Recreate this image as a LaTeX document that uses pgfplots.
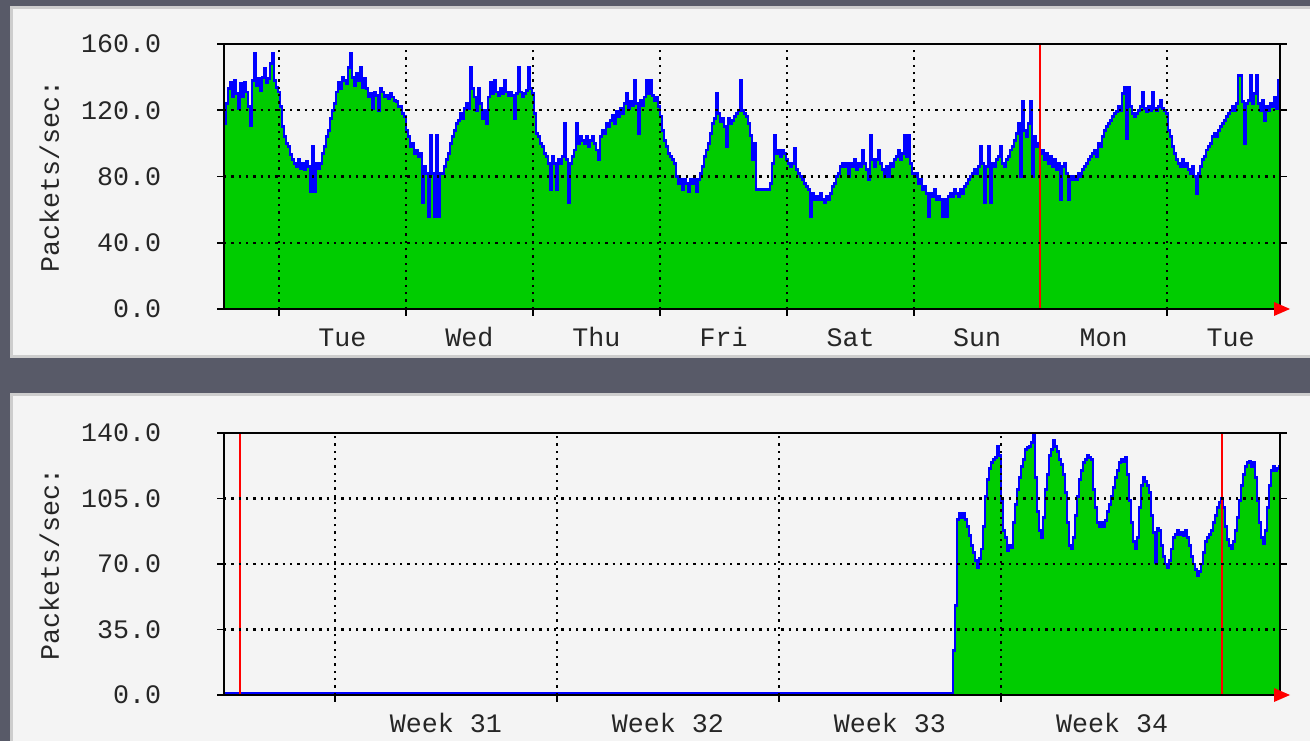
\documentclass[border=0pt]{standalone}
\usepackage{fontspec}
\setmainfont{Liberation Mono}
\usepackage{pgfplots}
\usepackage{pgfplotstable}
\pgfplotsset{compat=1.18}
\definecolor{bgdark}{HTML}{585A68}
\definecolor{panel}{HTML}{F4F4F4}
\definecolor{panelborder}{HTML}{CDCDCD}
\definecolor{mrtggreen}{HTML}{00CC00}
\definecolor{mrtgblue}{HTML}{0000FF}
\definecolor{mrtgred}{HTML}{FF0000}

\pgfplotstableread{
x y
0 112
2 124
4 133
6 137
8 128
10 138
12 130
14 121
16 136
18 128
20 137
22 131
24 122
26 111
28 138
30 154
32 135
34 139
36 132
38 140
40 145
42 137
44 139
46 148
48 154
50 138
52 134
54 131
56 122
58 110
60 104
62 100
64 98
66 93
68 90
70 88
72 86
74 90
76 85
78 88
80 84
82 89
84 86
86 71
88 98
90 71
92 88
94 85
96 88
98 94
100 98
102 104
104 108
106 115
108 120
110 124
112 131
114 137
116 133
118 140
120 138
122 136
124 146
126 154
128 140
130 135
132 142
134 138
136 146
138 134
140 139
142 133
144 128
146 130
148 121
150 131
152 129
154 120
156 133
158 131
160 128
162 129
164 127
166 130
168 128
170 126
172 125
174 122
176 122
178 118
180 116
182 108
184 104
186 98
188 100
190 94
192 96
194 92
196 94
198 64
200 86
202 82
204 56
206 105
208 82
210 56
212 105
214 56
216 82
218 82
220 86
222 90
224 94
226 100
228 104
230 108
232 112
234 114
236 118
238 115
240 121
242 124
244 121
246 146
248 133
250 128
252 120
254 133
256 124
258 115
260 120
262 112
264 128
266 137
268 130
270 138
272 131
274 129
276 133
278 130
280 138
282 131
284 129
286 131
288 129
290 115
292 130
294 146
296 131
298 128
300 130
302 132
304 146
306 133
308 130
310 118
312 106
314 104
316 100
318 98
320 94
322 92
324 88
326 72
328 92
330 88
332 72
334 90
336 88
338 92
340 112
342 90
344 64
346 88
348 92
350 96
352 112
354 100
356 104
358 102
360 100
362 104
364 98
366 102
368 104
370 100
372 96
374 90
376 104
378 108
380 106
382 112
384 110
386 114
388 117
390 112
392 119
394 116
396 121
398 118
400 124
402 130
404 121
406 125
408 123
410 138
412 124
414 106
416 126
418 123
420 128
422 138
424 130
426 138
428 129
430 126
432 128
434 122
436 116
438 108
440 102
442 98
444 94
446 92
448 90
450 88
452 80
454 76
456 78
458 72
460 78
462 76
464 71
466 78
468 76
470 78
472 71
474 78
476 82
478 86
480 92
482 96
484 100
486 106
488 112
490 115
492 130
494 118
496 113
498 115
500 110
502 98
504 115
506 112
508 114
510 116
512 118
514 120
516 138
518 120
520 118
522 116
524 112
526 105
528 90
530 100
532 72
534 72
536 72
538 72
540 72
542 72
544 72
546 76
548 88
550 105
552 94
554 96
556 92
558 96
560 94
562 90
564 88
566 86
568 88
570 97
572 84
574 82
576 80
578 78
580 76
582 74
584 72
586 56
588 70
590 66
592 68
594 66
596 70
598 66
600 64
602 68
604 66
606 70
608 74
610 76
612 80
614 82
616 86
618 88
620 86
622 88
624 80
626 88
628 86
630 90
632 84
634 88
636 86
638 96
640 88
642 84
644 78
646 105
648 90
650 86
652 90
654 96
656 88
658 84
660 80
662 86
664 80
666 88
668 86
670 90
672 92
674 96
676 90
678 94
680 105
682 92
684 105
686 88
688 82
690 80
692 82
694 76
696 78
698 72
700 74
702 70
704 56
706 70
708 68
710 72
712 66
714 68
716 66
718 56
720 66
722 56
724 68
726 70
728 68
730 72
732 70
734 68
736 72
738 70
740 74
742 76
744 78
746 80
748 82
750 84
752 82
754 86
756 98
758 88
760 64
762 86
764 98
766 64
768 88
770 86
772 90
774 92
776 98
778 88
780 86
782 90
784 92
786 96
788 98
790 102
792 106
794 112
796 80
798 125
800 108
802 104
804 112
806 125
808 80
810 104
812 98
814 100
816 94
818 96
820 90
822 94
824 88
826 92
828 86
830 90
832 84
834 88
836 66
838 86
840 88
842 82
844 66
846 80
848 78
850 80
852 78
854 82
856 80
858 84
860 86
862 88
864 90
866 92
868 94
870 96
872 92
874 100
876 98
878 104
880 108
882 110
884 112
886 114
888 116
890 118
892 119
894 122
896 120
898 130
900 134
902 103
904 134
906 122
908 118
910 116
912 118
914 120
916 122
918 131
920 121
922 119
924 122
926 120
928 131
930 121
932 120
934 122
936 126
938 121
940 120
942 118
944 108
946 104
948 98
950 94
952 90
954 88
956 86
958 90
960 86
962 88
964 84
966 82
968 86
970 80
972 70
974 82
976 86
978 90
980 92
982 96
984 98
986 100
988 104
990 106
992 104
994 108
996 110
998 112
1000 114
1002 116
1004 118
1006 120
1008 122
1010 120
1012 124
1014 141
1016 141
1018 125
1020 100
1022 124
1024 126
1026 141
1028 124
1030 130
1032 141
1034 124
1036 120
1038 126
1040 114
1042 122
1044 120
1046 124
1048 122
1050 128
1052 121
1054 138
1056 138
}\topdata

\pgfplotstableread{
x y
0 0.8
728 0.8
729 24
731 48
733 94
735 97
737 95
739 97
741 94
743 90
745 85
747 80
749 76
751 72
753 68
755 73
757 78
759 90
761 106
763 115
765 121
767 124
769 126
771 127
773 133
775 128
777 104
779 88
781 84
783 77
785 80
787 79
789 92
791 102
793 110
795 116
797 122
799 126
801 131
803 132
805 133
807 135
809 139
811 116
813 98
815 88
817 84
819 95
821 110
823 118
825 128
827 131
829 136
831 133
833 130
835 126
837 123
839 118
841 108
843 92
845 80
847 78
849 84
851 96
853 106
855 115
857 120
859 124
861 126
863 128
865 127
867 126
869 110
871 100
873 92
875 90
877 92
879 90
881 93
883 98
885 102
887 106
889 111
891 116
893 120
895 124
897 126
899 125
901 127
903 118
905 104
907 92
909 82
911 78
913 84
915 100
917 112
919 116
921 114
923 112
925 108
927 96
929 87
931 71
933 89
935 88
937 80
939 74
941 70
943 68
945 72
947 78
949 84
951 86
953 88
955 86
957 87
959 85
961 88
963 84
965 80
967 74
969 70
971 67
973 64
975 66
977 70
979 76
981 82
983 84
985 86
987 88
989 92
991 96
993 100
995 103
997 105
999 100
1001 90
1003 83
1005 80
1007 78
1009 82
1011 88
1013 95
1015 104
1017 112
1019 118
1021 122
1023 124
1025 125
1027 122
1029 124
1031 116
1033 104
1035 92
1037 84
1039 81
1041 88
1043 100
1045 112
1047 120
1049 122
1051 120
1053 121
1055 122
1056 122
}\bottomdata

\pgfplotsset{
  mrtg/.style={
    scale only axis,
    width=792pt,
    xmin=0, xmax=1056,
    ymin=0,
    axis on top,
    grid=major,
    grid style={black, line width=1.8pt, dash pattern=on 1.7pt off 3.8pt},
    major grid style={black, line width=1.8pt, dash pattern=on 1.7pt off 3.8pt},
    axis line style={black, line width=1.6pt},
    tick align=outside,
    major tick length=5pt,
    tick style={black, line width=1.3pt},
    xtick pos=left,
    ytick pos=both,
    xticklabels={},
    every tick label/.append style={font=\fontsize{20}{24}\selectfont, text=black!85},
    yticklabel style={inner sep=0pt, xshift=-42pt},
    xticklabel style={inner sep=0pt, anchor=base, yshift=-28.5pt},
    extra x tick style={grid=none, major tick length=0pt, tick style={draw=none}},
    ylabel={Packets/sec:},
    every axis y label/.style={at={(rel axis cs:0,0.5)}, xshift=-131pt, rotate=90, anchor=center, font=\fontsize{20}{24}\selectfont, text=black!85},
  }
}

\begin{document}
\begin{tikzpicture}[x=0.75pt,y=0.75pt]
\useasboundingbox (0,0) rectangle (1310,741);
\fill[bgdark] (0,0) rectangle (1310,741);
\fill[panel, draw=panelborder, line width=2.25pt] (11,384) rectangle (1320,733);
\fill[panel, draw=panelborder, line width=2.25pt] (11,-10) rectangle (1320,346);

\begin{axis}[mrtg, name=top,
  at={(168pt,324pt)}, anchor=south west,
  height=198.75pt, ymax=160,
  ytick={0,40,80,120,160},
  yticklabels={0.0,40.0,80.0,120.0,160.0},
  xtick={55,182,309,436,563,690,943},
  extra x ticks={118.5,245.5,372.5,499.5,626.5,753,879.5,1006.5},
  extra x tick labels={Tue,Wed,Thu,Fri,Sat,Sun,Mon,Tue},
]
\addplot[const plot, fill=mrtggreen, draw=none] table[x=x,y=y] {\topdata} \closedcycle;
\addplot[const plot, draw=mrtgblue, line width=2.2pt] table[x=x,y=y] {\topdata};
\addplot[draw=mrtgred, line width=2pt] coordinates {(816,0) (816,160)};
\end{axis}
\fill[mrtgred] ([xshift=-4.5pt,yshift=5.25pt]top.south east) -- ([xshift=-4.5pt,yshift=-5.25pt]top.south east) -- ([xshift=7.5pt]top.south east) -- cycle;

\begin{axis}[mrtg, name=bottom,
  at={(168pt,34.5pt)}, anchor=south west,
  height=196.5pt, ymax=140,
  ytick={0,35,70,105,140},
  yticklabels={0.0,35.0,70.0,105.0,140.0},
  xtick={111,333,555,777},
  extra x ticks={222,444,666,888},
  extra x tick labels={Week 31,Week 32,Week 33,Week 34},
]
\addplot[const plot, fill=mrtggreen, draw=none] table[x=x,y=y] {\bottomdata} \closedcycle;
\addplot[const plot, draw=mrtgblue, line width=2.2pt] table[x=x,y=y] {\bottomdata};
\addplot[draw=mrtgred, line width=2pt] coordinates {(16,0) (16,140)};
\addplot[draw=mrtgred, line width=2pt] coordinates {(998,0) (998,140)};
\end{axis}
\fill[mrtgred] ([xshift=-4.5pt,yshift=5.25pt]bottom.south east) -- ([xshift=-4.5pt,yshift=-5.25pt]bottom.south east) -- ([xshift=7.5pt]bottom.south east) -- cycle;
\end{tikzpicture}
\end{document}
